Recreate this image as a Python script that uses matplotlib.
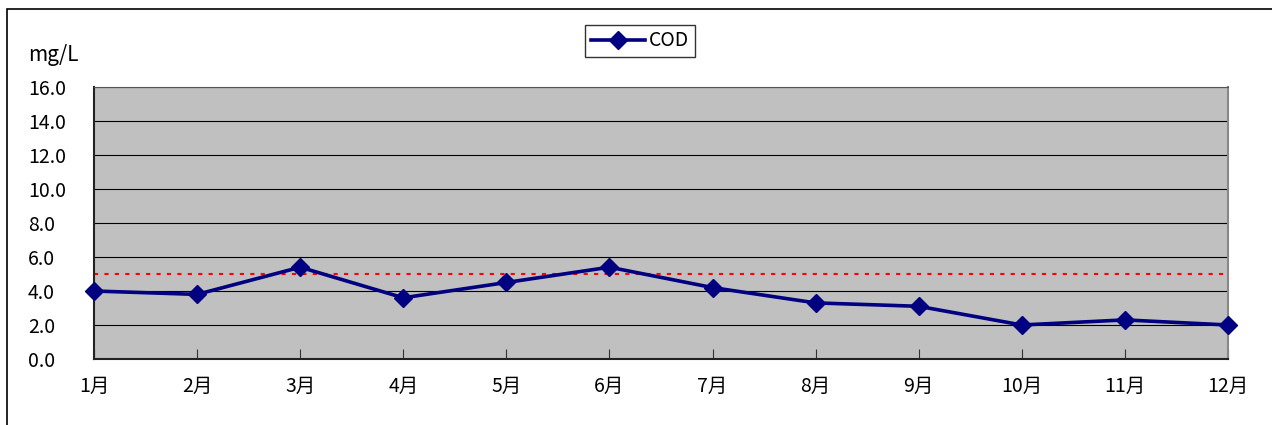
import matplotlib
matplotlib.use("Agg")
import matplotlib.pyplot as plt
from matplotlib.patches import Rectangle

plt.rcParams['font.family'] = ['Noto Sans CJK JP', 'DejaVu Sans']

# data
months = ['1月', '2月', '3月', '4月', '5月', '6月',
          '7月', '8月', '9月', '10月', '11月', '12月']
cod = [4.0, 3.8, 5.4, 3.6, 4.5, 5.4, 4.2, 3.3, 3.1, 2.0, 2.3, 2.0]
limit = 5.0
yticks = [0, 2, 4, 6, 8, 10, 12, 14, 16]


def main():
    fig = plt.figure(figsize=(12.72, 4.25), dpi=100)
    ax = fig.add_axes([0.0739, 0.1553, 0.8915, 0.64])

    # outer chart frame (right/bottom cut off in the original)
    fig.patches.append(Rectangle((7 / 1272, -0.05), 1.2, 1 - 9 / 425 + 0.05,
                                 transform=fig.transFigure, fill=False,
                                 edgecolor='black', linewidth=1.2))

    x = list(range(len(months)))
    ax.set_facecolor('#C0C0C0')
    for v in yticks[1:]:
        ax.axhline(v, color='black', linewidth=0.8, zorder=1)
    ax.axhline(limit, color='red', linewidth=1.5, linestyle=(0, (2, 3)), zorder=2)
    ax.plot(x, cod, color='#000080', linewidth=2.6, marker='D', markersize=9,
            label='COD', zorder=3, clip_on=False)

    ax.set_xlim(0, len(months) - 1)
    ax.set_ylim(0, 16)
    ax.set_xticks(x)
    ax.set_xticklabels(months, fontsize=14)
    ax.set_yticks(yticks)
    ax.set_yticklabels(['{:.1f}'.format(v) for v in yticks], fontsize=14)
    ax.tick_params(axis='x', direction='in', length=7, pad=12, color='#333333')
    ax.tick_params(axis='y', length=0, pad=0)
    for t in ax.get_yticklabels():
        t.set_horizontalalignment('left')
        t.set_x(-66 / 1134)

    ax.spines['left'].set_color('#222222')
    ax.spines['bottom'].set_color('#222222')
    ax.spines['left'].set_linewidth(1.5)
    ax.spines['bottom'].set_linewidth(1.5)
    ax.spines['top'].set_color('#555555')
    ax.spines['right'].set_color('#888888')
    ax.spines['right'].set_linewidth(1.5)

    fig.text(28 / 1272, 1 - 55 / 425, 'mg/L', fontsize=15, va='center', ha='left')

    leg = fig.legend(loc='center', bbox_to_anchor=(640 / 1272, 1 - 41 / 425),
                     fontsize=14, frameon=True, fancybox=False, edgecolor='black',
                     handlelength=2.8, borderpad=0.3, handletextpad=0.2,
                     borderaxespad=0)
    leg.get_frame().set_linewidth(1.0)

    fig.savefig('out.png', dpi=100)


if __name__ == '__main__':
    main()
